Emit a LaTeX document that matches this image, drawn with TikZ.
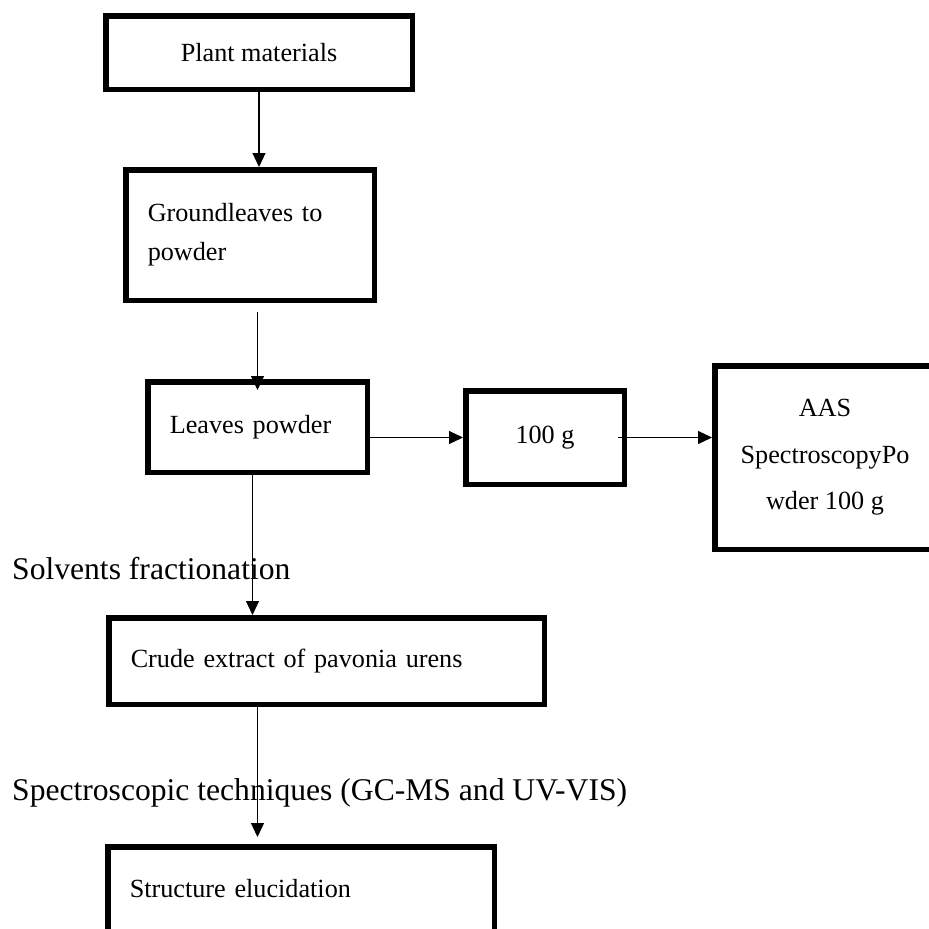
\documentclass[tikz,border=0pt]{standalone}
\usepackage{fontspec}
\setmainfont{Liberation Serif}
\usetikzlibrary{positioning,calc,arrows.meta}

\begin{document}
\begin{tikzpicture}[x=1pt,y=1pt,
        boite/.style={rectangle,draw,line width=5.5pt,anchor=center,font=\fontsize{26.2}{39}\selectfont},
        gauche/.style={boite,align=left,inner xsep=22pt},
        fleche/.style={line width=1.2pt,-{Triangle[length=14pt,width=13pt]},shorten >=0pt},
        titre/.style={anchor=base west,inner sep=0pt,font=\fontsize{31.6}{36}\selectfont}]
        \useasboundingbox (0,0) rectangle (929,-929);
        \clip (0,0) rectangle (929,-929);
        \node[boite,minimum width = 306.5pt,minimum height = 73.5pt] at (259,-52.5) (PM) {Plant materials};
        \node[gauche,text width = 204.5pt,minimum height = 130.5pt] at (250,-235) (GL) {Groundleaves to\\powder};
        \node[gauche,text width = 175.5pt,minimum height = 90.5pt] at (257.5,-427) (LP) {Leaves powder};
        \node[boite,minimum width = 158.5pt,minimum height = 93.5pt] at (545,-437.5) (CG) {100 g};
        \node[boite,align=center,minimum width = 220.5pt,minimum height = 183.5pt,font=\fontsize{26.2}{46.5}\selectfont] at (825,-457.5) (AAS) {AAS\\SpectroscopyPo\\wder 100 g};
        \node[gauche,text width = 391.5pt,minimum height = 86.5pt] at (326.5,-661) (CE) {Crude extract of pavonia urens};
        \node[gauche,text width = 342.5pt,minimum height = 84.5pt] at (301,-889) (SE) {Structure elucidation};
        \node[titre] at (12,-579) (SF) {Solvents fractionation};
        \node[titre] at (12,-800) (ST) {Spectroscopic techniques (GC-MS and UV-VIS)};
        \draw [fleche] (PM.south) -- (PM.south |- GL.north);
        \draw [fleche] ([yshift=-9pt]LP.north |- GL.south) -- ([yshift=-11pt]LP.north);
        \draw [fleche] (LP.east |- CG.west) -- (CG.west);
        \draw [fleche] ([xshift=-9pt]CG.east) -- (AAS.west |- CG.east);
        \draw [fleche] ([xshift=-5pt]LP.south) -- ([xshift=-5pt]LP.south |- CE.north);
        \draw [fleche] (LP.south |- CE.south) -- ([yshift=7pt]LP.south |- SE.north);
    \end{tikzpicture}
\end{document}
